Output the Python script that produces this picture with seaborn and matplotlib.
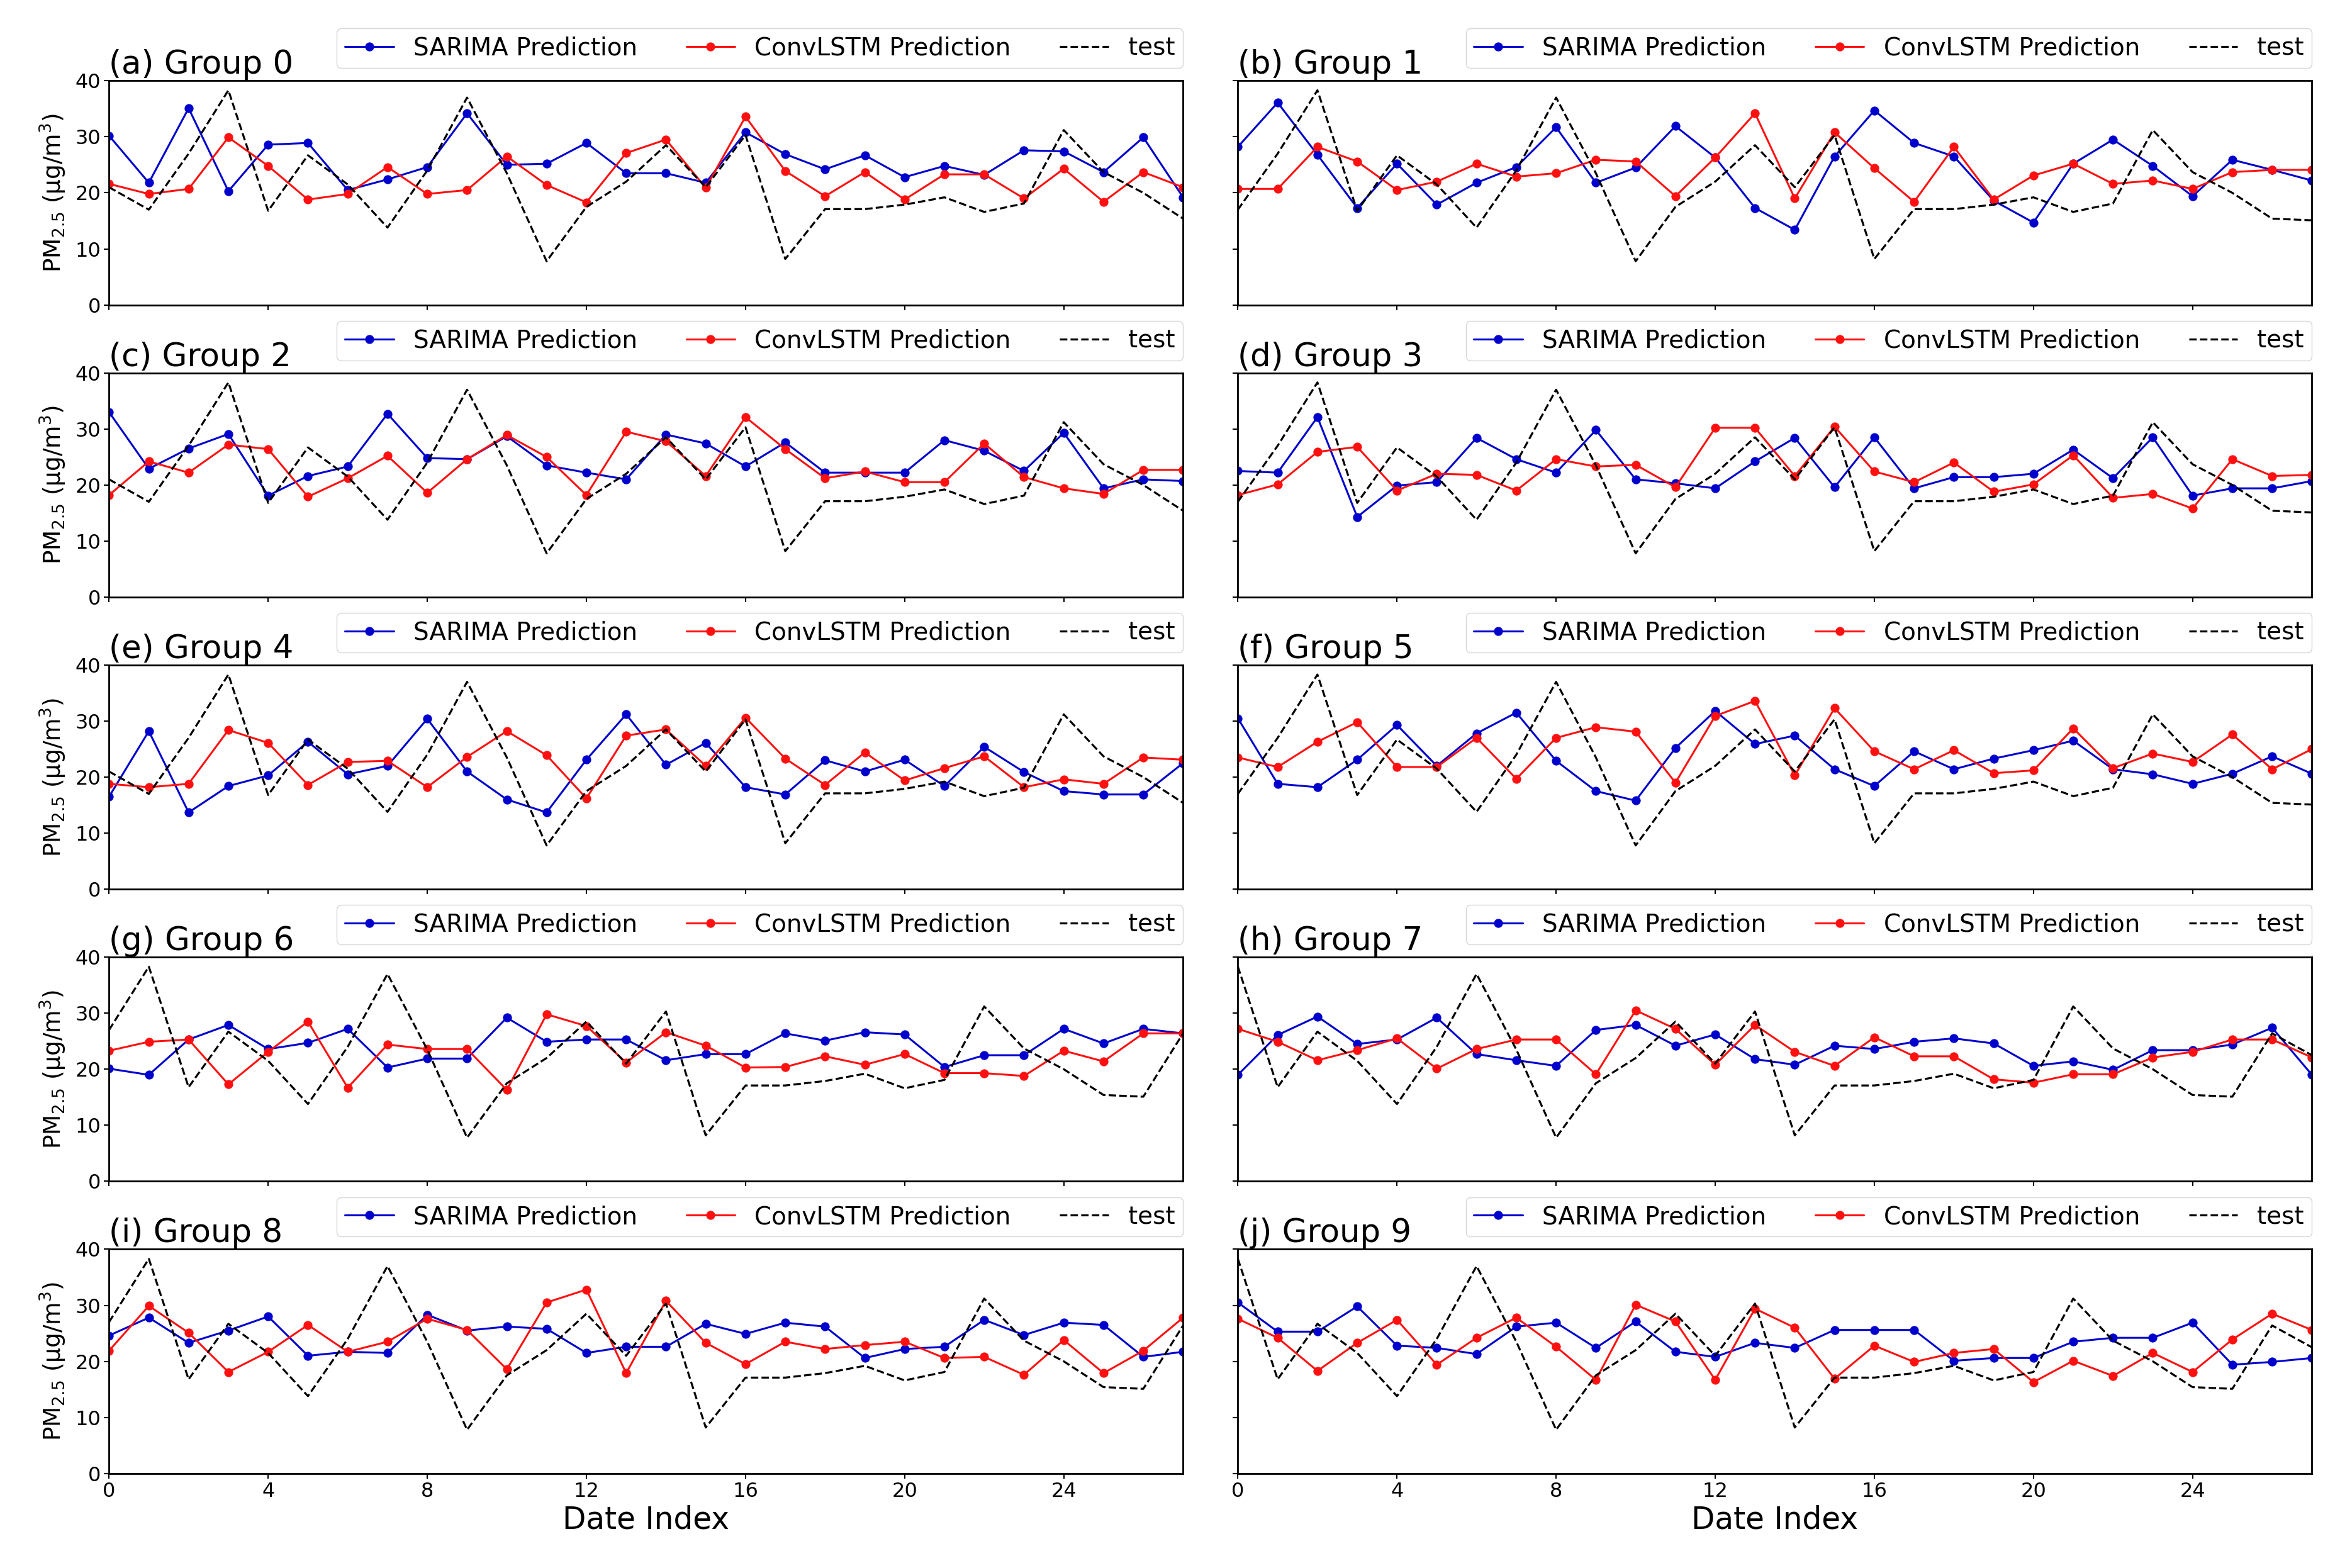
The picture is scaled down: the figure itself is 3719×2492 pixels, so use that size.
import matplotlib
matplotlib.use("Agg")
import matplotlib.pyplot as plt
import seaborn as sns

days = list(range(28))
panel_letters = ['a', 'b', 'c', 'd', 'e', 'f', 'g', 'h', 'i', 'j']

# observed PM2.5; each group panel shows a 28-day window starting at test_start
test_full = [21.0, 17.0, 27.0, 38.3, 16.8, 26.7, 21.5, 13.8, 24.0, 37.0,
             23.5, 7.8, 17.5, 22.0, 28.5, 21.0, 30.3, 8.2, 17.1, 17.1,
             17.9, 19.2, 16.6, 18.1, 31.2, 23.7, 20.0, 15.4, 15.1, 26.4, 22.5]
test_start = [0, 1, 0, 1, 0, 1, 2, 3, 2, 3]

sarima_0 = [30.2, 21.8, 35.1, 20.3, 28.6, 28.9, 20.5, 22.4, 24.6, 34.2, 25.0, 25.2, 28.9, 23.5,
            23.5, 21.8, 30.8, 26.9, 24.2, 26.7, 22.8, 24.8, 23.2, 27.6, 27.4, 23.7, 29.9, 19.2]
convlstm_0 = [21.6, 19.8, 20.7, 29.9, 24.8, 18.8, 19.8, 24.6, 19.8, 20.5, 26.5, 21.4, 18.3, 27.1,
              29.5, 20.9, 33.6, 23.9, 19.4, 23.7, 18.8, 23.3, 23.3, 19.0, 24.3, 18.4, 23.7, 21.0]

sarima_1 = [28.2, 36.1, 26.8, 17.3, 25.2, 17.9, 21.8, 24.6, 31.7, 21.8, 24.5, 31.9, 26.3, 17.3,
            13.4, 26.5, 34.7, 28.9, 26.5, 18.6, 14.7, 25.2, 29.5, 24.8, 19.4, 25.9, 24.1, 22.2]
convlstm_1 = [20.7, 20.7, 28.2, 25.6, 20.5, 22.0, 25.2, 22.9, 23.5, 25.9, 25.6, 19.4, 26.3, 34.2,
              19.0, 30.8, 24.4, 18.4, 28.2, 18.8, 23.1, 25.2, 21.6, 22.2, 20.7, 23.7, 24.1, 24.1]

sarima_2 = [33.0, 22.9, 26.5, 29.1, 18.1, 21.6, 23.3, 32.7, 24.8, 24.6, 28.7, 23.5, 22.2, 21.0,
            29.0, 27.4, 23.3, 27.6, 22.2, 22.2, 22.2, 28.0, 26.1, 22.5, 29.3, 19.4, 21.0, 20.7]
convlstm_2 = [18.2, 24.2, 22.2, 27.2, 26.4, 17.9, 21.2, 25.2, 18.6, 24.6, 28.9, 25.0, 18.2, 29.5,
              27.8, 21.6, 32.1, 26.4, 21.2, 22.4, 20.5, 20.5, 27.4, 21.4, 19.4, 18.4, 22.7, 22.7]

sarima_3 = [22.5, 22.2, 32.1, 14.3, 19.9, 20.5, 28.4, 24.6, 22.2, 29.8, 21.0, 20.3, 19.4, 24.2,
            28.4, 19.6, 28.5, 19.4, 21.4, 21.4, 22.0, 26.3, 21.2, 28.5, 18.1, 19.4, 19.4, 20.7]
convlstm_3 = [18.2, 20.1, 25.9, 26.8, 19.0, 22.0, 21.8, 19.0, 24.6, 23.3, 23.6, 19.6, 30.2, 30.2,
              21.6, 30.4, 22.4, 20.5, 24.0, 18.8, 20.1, 25.3, 17.7, 18.4, 15.8, 24.6, 21.6, 21.8]

sarima_4 = [16.5, 28.2, 13.7, 18.4, 20.3, 26.3, 20.5, 22.0, 30.4, 21.0, 16.0, 13.7, 23.1, 31.2,
            22.2, 26.1, 18.2, 16.9, 23.0, 21.0, 23.1, 18.4, 25.4, 20.9, 17.5, 16.9, 16.9, 22.5]
convlstm_4 = [18.8, 18.2, 18.8, 28.4, 26.1, 18.6, 22.7, 22.9, 18.2, 23.6, 28.2, 23.9, 16.2, 27.4,
              28.5, 22.0, 30.6, 23.3, 18.6, 24.4, 19.4, 21.6, 23.7, 18.2, 19.6, 18.8, 23.5, 23.1]

sarima_5 = [30.5, 18.8, 18.2, 23.1, 29.3, 22.0, 27.8, 31.5, 22.9, 17.5, 15.8, 25.2, 31.8, 25.9,
            27.4, 21.4, 18.4, 24.6, 21.4, 23.3, 24.8, 26.5, 21.4, 20.5, 18.8, 20.6, 23.7, 20.6]
convlstm_5 = [23.5, 21.8, 26.3, 29.8, 21.8, 21.8, 27.0, 19.7, 27.0, 28.9, 28.1, 19.0, 30.9, 33.6,
              20.3, 32.3, 24.6, 21.4, 24.8, 20.7, 21.2, 28.7, 21.6, 24.2, 22.7, 27.6, 21.4, 25.0]

sarima_6 = [20.1, 19.0, 25.3, 27.9, 23.6, 24.7, 27.2, 20.3, 21.9, 21.9, 29.2, 24.9, 25.3, 25.3,
            21.6, 22.7, 22.7, 26.4, 25.1, 26.6, 26.2, 20.4, 22.5, 22.5, 27.2, 24.6, 27.2, 26.4]
convlstm_6 = [23.3, 24.9, 25.3, 17.3, 23.1, 28.5, 16.7, 24.4, 23.6, 23.6, 16.3, 29.8, 27.7, 21.2,
              26.6, 24.2, 20.3, 20.4, 22.3, 20.8, 22.7, 19.3, 19.3, 18.8, 23.3, 21.4, 26.4, 26.4]

sarima_7 = [19.0, 26.1, 29.4, 24.5, 25.3, 29.2, 22.7, 21.6, 20.6, 27.0, 27.9, 24.2, 26.2, 21.8,
            20.8, 24.2, 23.6, 24.9, 25.5, 24.6, 20.6, 21.4, 19.9, 23.4, 23.4, 24.4, 27.4, 19.0]
convlstm_7 = [27.2, 24.9, 21.6, 23.4, 25.5, 20.1, 23.6, 25.3, 25.3, 19.1, 30.5, 27.2, 20.8, 27.9,
              23.1, 20.6, 25.7, 22.3, 22.3, 18.2, 17.6, 19.1, 19.1, 22.1, 23.1, 25.3, 25.3, 22.1]

sarima_8 = [24.6, 27.8, 23.3, 25.5, 28.0, 21.0, 21.7, 21.5, 28.3, 25.5, 26.2, 25.8, 21.5, 22.6,
            22.6, 26.7, 24.9, 26.9, 26.2, 20.6, 22.2, 22.6, 27.4, 24.7, 26.9, 26.5, 20.8, 21.7]
convlstm_8 = [21.9, 29.9, 25.1, 18.1, 21.7, 26.5, 21.7, 23.5, 27.6, 25.6, 18.6, 30.5, 32.8, 17.9,
              30.8, 23.3, 19.5, 23.5, 22.2, 22.9, 23.5, 20.6, 20.8, 17.6, 23.8, 17.9, 21.9, 27.8]

sarima_9 = [30.5, 25.3, 25.3, 29.8, 22.8, 22.4, 21.3, 26.2, 26.9, 22.4, 27.1, 21.7, 20.8, 23.3,
            22.4, 25.6, 25.6, 25.6, 20.1, 20.6, 20.6, 23.5, 24.2, 24.2, 26.9, 19.4, 19.9, 20.6]
convlstm_9 = [27.6, 24.2, 18.3, 23.3, 27.4, 19.4, 24.2, 27.8, 22.6, 16.7, 30.1, 27.1, 16.7, 29.4,
              26.0, 16.9, 22.8, 19.9, 21.5, 22.2, 16.3, 20.1, 17.4, 21.5, 18.1, 23.9, 28.5, 25.6]

sarima = [sarima_0, sarima_1, sarima_2, sarima_3, sarima_4,
          sarima_5, sarima_6, sarima_7, sarima_8, sarima_9]
convlstm = [convlstm_0, convlstm_1, convlstm_2, convlstm_3, convlstm_4,
            convlstm_5, convlstm_6, convlstm_7, convlstm_8, convlstm_9]

sns.set_style("ticks", {"axes.edgecolor": "black", "xtick.color": "black",
                        "ytick.color": "black", "text.color": "black",
                        "axes.labelcolor": "black"})
plt.rcParams['font.family'] = ['DejaVu Sans']
plt.rcParams['axes.linewidth'] = 2.0
plt.rcParams['xtick.major.width'] = 1.5
plt.rcParams['ytick.major.width'] = 1.5
plt.rcParams['xtick.major.size'] = 6
plt.rcParams['ytick.major.size'] = 6

fig, axes = plt.subplots(5, 2, figsize=(37.19, 24.92), dpi=100, sharex=True, sharey=True)
fig.subplots_adjust(left=0.0466, right=0.988, top=0.9485, bottom=0.0603,
                    wspace=0.051, hspace=0.303)

for i, ax in enumerate(axes.flat):
    start = test_start[i]
    test = test_full[start:start + 28]
    sns.lineplot(x=days, y=sarima[i], ax=ax, color='#0000cd', marker='o', markersize=9.5,
                 markeredgecolor='#0000cd', linewidth=2.2, label='SARIMA Prediction')
    sns.lineplot(x=days, y=convlstm[i], ax=ax, color='#ff1010', marker='o', markersize=9.5,
                 markeredgecolor='#ff1010', linewidth=2.2, label='ConvLSTM Prediction')
    sns.lineplot(x=days, y=test, ax=ax, color='black', linestyle='--', linewidth=2.3, label='test')

    ax.set_xlim(0, 27)
    ax.set_ylim(0, 40)
    ax.set_xticks(range(0, 28, 4))
    ax.set_yticks(range(0, 41, 10))
    ax.tick_params(labelsize=23)
    ax.set_title(f'({panel_letters[i]}) Group {i}', loc='left', fontsize=37, pad=4)
    ax.legend(ncol=3, loc='lower right', bbox_to_anchor=(1.0, 1.056), borderaxespad=0,
              fontsize=28, frameon=True, borderpad=0.32)
    ax.set_xlabel('')
    ax.set_ylabel('')
    if i % 2 == 0:
        ax.set_ylabel('PM$_{2.5}$ (μg/m$^3$)', fontsize=27, labelpad=8)
    if i >= 8:
        ax.set_xlabel('Date Index', fontsize=35)

plt.savefig('out.png', dpi=100)
